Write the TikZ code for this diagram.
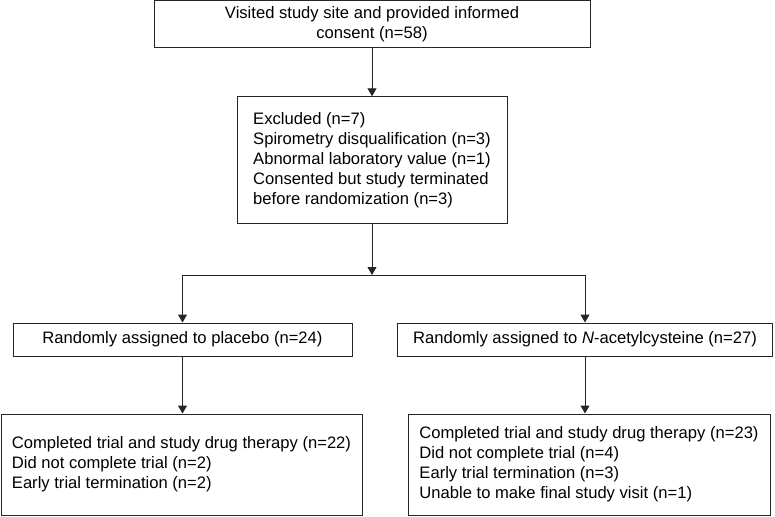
\documentclass[tikz,border=0pt]{standalone}
\usepackage{fontspec}
\setmainfont{Liberation Sans}
\usetikzlibrary{arrows.meta}
\begin{document}
\begin{tikzpicture}[x=1pt,y=-1pt,
  every node/.style={font=\fontsize{16.6}{20}\selectfont, inner sep=0pt},
  box/.style={draw=black!85, line width=1pt, rectangle},
  arr/.style={draw=black!85, line width=1pt, -{Triangle[length=8pt,width=9pt]}},
  ln/.style={draw=black!85, line width=1pt}]
\useasboundingbox (0,0) rectangle (775,516);
\node[box, align=center, minimum width=436pt, minimum height=47pt] (top) at (372,24.5)
  {Visited study site and provided informed\\consent (n=58)};
\node[box, align=left, minimum width=270pt, minimum height=127pt] (excl) at (372,160.3)
  {Excluded (n=7)\\Spirometry disqualification (n=3)\\Abnormal laboratory value (n=1)\\Consented but study terminated\\before randomization (n=3)};
\node[box, minimum width=339pt, minimum height=33pt] (pla) at (182.5,339.5)
  {Randomly assigned to placebo (n=24)};
\node[box, minimum width=375pt, minimum height=33pt] (nac) at (585,339.5)
  {Randomly assigned to \textit{N}-acetylcysteine (n=27)};
\node[box, align=left, minimum width=361pt, minimum height=101pt] (bl) at (181.5,464.5)
  {Completed trial and study drug therapy (n=22)\\Did not complete trial (n=2)\\Early trial termination (n=2)};
\node[box, align=left, minimum width=362pt, minimum height=101pt] (br) at (589,464.5)
  {Completed trial and study drug therapy (n=23)\\Did not complete trial (n=4)\\Early trial termination (n=3)\\Unable to make final study visit (n=1)};
\coordinate (j) at (372,275);
\draw[arr] (top.south) -- (top.south |- excl.north);
\draw[arr] (excl.south) -- (j);
\draw[arr] (j) -| (pla.north);
\draw[arr] (j) -| (nac.north);
\draw[arr] (pla.south) -- (pla.south |- bl.north);
\draw[arr] (nac.south) -- (nac.south |- br.north);
\end{tikzpicture}
\end{document}
